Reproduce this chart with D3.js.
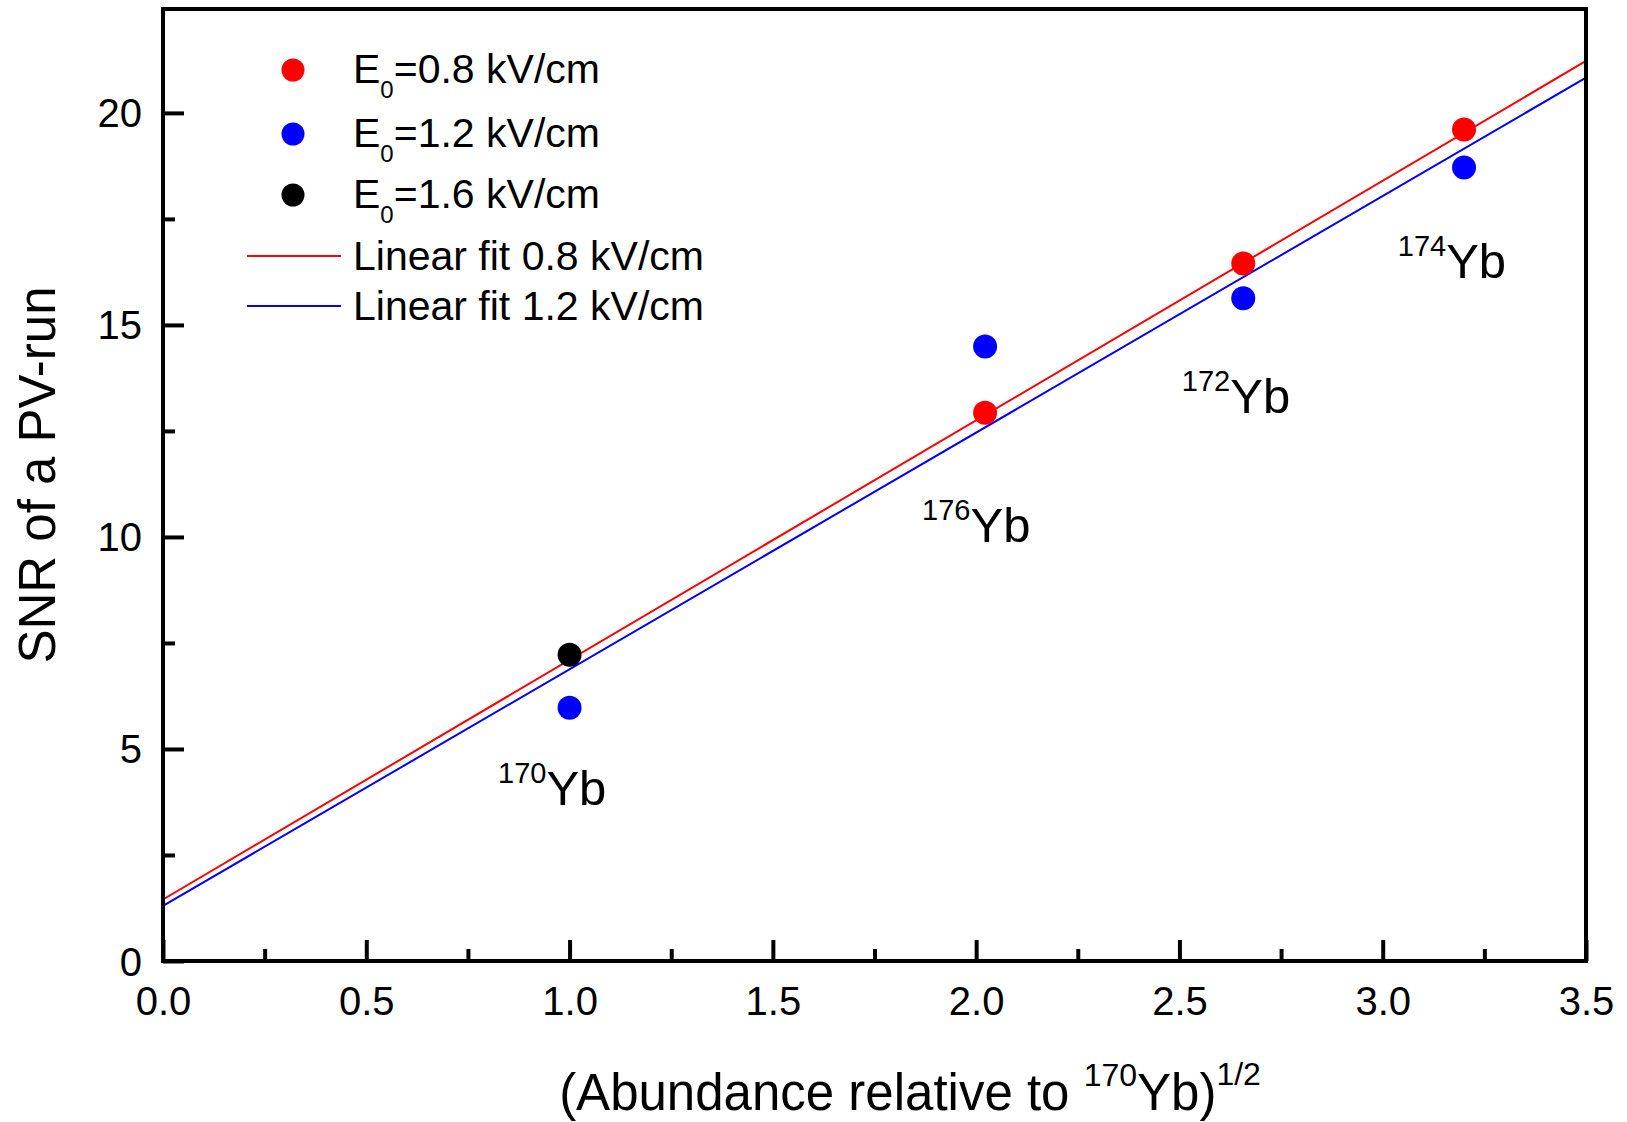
<!DOCTYPE html>
<html>
<head>
<meta charset="utf-8">
<script src="https://cdn.jsdelivr.net/npm/d3@7"></script>
<style>
  html, body { margin: 0; padding: 0; background: #fff; }
  svg { display: block; }
  text { font-family: "Liberation Sans", Arial, sans-serif; fill: #000; }
</style>
</head>
<body>
<svg id="chart" width="1627" height="1122"></svg>
<script>
// ---------------- data ----------------
const xTicksMajor = [0, 0.5, 1.0, 1.5, 2.0, 2.5, 3.0, 3.5];
const xTicksMinor = [0.25, 0.75, 1.25, 1.75, 2.25, 2.75, 3.25];
const yTicksMajor = [0, 5, 10, 15, 20];
const yTicksMinor = [2.5, 7.5, 12.5, 17.5];

const seriesNames = ["E0=0.8 kV/cm", "E0=1.2 kV/cm", "E0=1.6 kV/cm"];
const seriesFields = ["0.8", "1.2", "1.6"];
const seriesColors = ["#ff0000", "#0000ff", "#000000"];

const xE08 = [2.022, 2.657, 3.200];
const yE08 = [12.93, 16.45, 19.61];
const xE12 = [1.0, 2.022, 2.657, 3.200];
const yE12 = [5.97, 14.49, 15.63, 18.71];
const xE16 = [1.0];
const yE16 = [7.22];

const fitNames = ["Linear fit 0.8 kV/cm", "Linear fit 1.2 kV/cm"];
const fitIntercepts = [1.45, 1.30];
const fitSlopes = [5.65, 5.58];
const fitColors = ["#ff0000", "#0000ff"];

const isotopeMass = ["170", "176", "172", "174"];
const isotopeLabelX = [0.824, 1.867, 2.506, 3.037];
const isotopeLabelY = [3.68, 9.88, 12.92, 16.11];

// ---------------- layout ----------------
const svg = d3.select("#chart");
const L = 163, R = 1586, T = 9, B = 961;
const x = d3.scaleLinear().domain([0, 3.5]).range([L, R]);
const y = d3.scaleLinear().domain([0, 22.45]).range([B, T]);

// fit lines
const fitG = svg.append("g");
fitIntercepts.forEach((b, i) => {
  const m = fitSlopes[i];
  const pts = [0, 3.5].map(v => [x(v), y(b + m * v)]);
  fitG.append("path")
    .attr("d", d3.line()(pts))
    .attr("stroke", fitColors[i])
    .attr("stroke-width", 2)
    .attr("fill", "none");
});

// points
const allSeries = [[xE08, yE08], [xE12, yE12], [xE16, yE16]];
const ptG = svg.append("g");
allSeries.forEach(([xs, ys], i) => {
  xs.forEach((xv, j) => {
    ptG.append("circle")
      .attr("cx", x(xv)).attr("cy", y(ys[j]))
      .attr("r", 12)
      .attr("fill", seriesColors[i]);
  });
});

// axes
const tickFont = 40;
const xAxisG = svg.append("g").attr("transform", `translate(0,${B})`)
  .call(d3.axisBottom(x).tickValues(xTicksMajor).tickFormat(d3.format(".1f"))
    .tickSizeInner(-21).tickSizeOuter(0));
xAxisG.selectAll("text").attr("y", 0).attr("dy", 0)
  .attr("transform", "translate(0,54)")
  .style("font-size", tickFont + "px").style("font-family", '"Liberation Sans", Arial, sans-serif');
const xMinorG = svg.append("g").attr("transform", `translate(0,${B})`)
  .call(d3.axisBottom(x).tickValues(xTicksMinor).tickFormat("")
    .tickSizeInner(-12).tickSizeOuter(0));

const yAxisG = svg.append("g").attr("transform", `translate(${L},0)`)
  .call(d3.axisLeft(y).tickValues(yTicksMajor).tickFormat(d3.format("d"))
    .tickSizeInner(-21).tickSizeOuter(0));
yAxisG.selectAll("text").attr("x", -21).attr("dy", "0.35em")
  .style("font-size", tickFont + "px").style("font-family", '"Liberation Sans", Arial, sans-serif');
const yMinorG = svg.append("g").attr("transform", `translate(${L},0)`)
  .call(d3.axisLeft(y).tickValues(yTicksMinor).tickFormat("")
    .tickSizeInner(-12).tickSizeOuter(0));

[xAxisG, xMinorG, yAxisG, yMinorG].forEach(g => {
  g.select(".domain").remove();
  g.selectAll("line").attr("stroke", "#000").attr("stroke-width", 4);
});

// frame
svg.append("rect")
  .attr("x", L).attr("y", T).attr("width", R - L).attr("height", B - T)
  .attr("fill", "none").attr("stroke", "#000").attr("stroke-width", 4);

// axis titles
const xt = svg.append("text")
  .attr("x", 910).attr("y", 1110)
  .attr("text-anchor", "middle")
  .style("font-size", "51px");
xt.append("tspan").text("(Abundance relative to ");
xt.append("tspan").text("170").style("font-size", "32px").attr("dy", -24);
xt.append("tspan").text("Yb)").attr("dy", 24);
xt.append("tspan").text("1/2").style("font-size", "32px").attr("dy", -25);

svg.append("text")
  .attr("transform", "translate(55,475) rotate(-90)")
  .attr("text-anchor", "middle")
  .style("font-size", "51px")
  .text("SNR of a PV-run");

// isotope labels
isotopeMass.forEach((mass, i) => {
  const t = svg.append("text")
    .attr("x", x(isotopeLabelX[i])).attr("y", y(isotopeLabelY[i]));
  t.append("tspan").text(mass).style("font-size", "29px").attr("dy", -22);
  t.append("tspan").text("Yb").style("font-size", "49px").attr("dy", 22);
});

// legend
const legG = svg.append("g");
const legRowY = [83, 147, 208];
seriesNames.forEach((name, i) => {
  legG.append("circle").attr("cx", 293).attr("cy", legRowY[i] - 13).attr("r", 11.5)
    .attr("fill", seriesColors[i]);
  const t = legG.append("text").attr("x", 353).attr("y", legRowY[i]).style("font-size", "41px");
  t.append("tspan").text("E");
  t.append("tspan").text("0").style("font-size", "24px").attr("dy", 15);
  t.append("tspan").text("=" + seriesFields[i] + " kV/cm").attr("dy", -15);
});
const fitRowY = [270, 320];
fitNames.forEach((name, i) => {
  legG.append("line").attr("x1", 247).attr("x2", 341)
    .attr("y1", fitRowY[i] - 14).attr("y2", fitRowY[i] - 14)
    .attr("stroke", fitColors[i]).attr("stroke-width", 2);
  legG.append("text").attr("x", 353).attr("y", fitRowY[i]).style("font-size", "41px").text(name);
});
</script>
</body>
</html>
